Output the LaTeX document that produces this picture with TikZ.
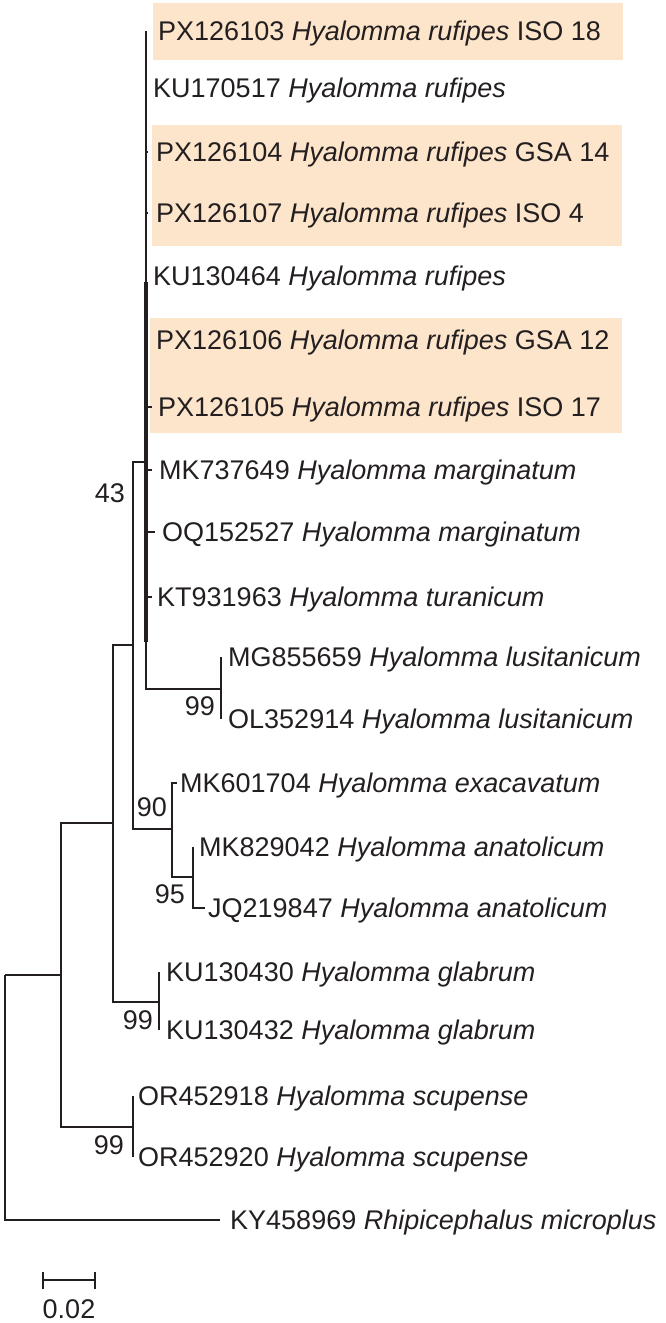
\documentclass[tikz,border=0pt]{standalone}
\usepackage{fontspec}
\setmainfont{Liberation Sans}
\definecolor{hilite}{RGB}{253,229,203}
\definecolor{ink}{RGB}{35,31,32}
\tikzset{
  taxon/.style={anchor=base west,inner sep=0pt,text=ink},
  boot/.style={inner sep=0pt,text=ink},
  branch/.style={line width=2pt,draw=ink},
  core/.style={line width=4.5pt,draw=ink},
}
\begin{document}
\begin{tikzpicture}[x=1pt,y=-1pt,font=\fontsize{27}{32}\selectfont]
      \useasboundingbox (0,0) rectangle (665,1323);
      \fill[hilite] (153,3) rectangle (623,60);
      \fill[hilite] (152,125) rectangle (622,246);
      \fill[hilite] (150,318) rectangle (622,433);
      \coordinate (R) at (5,975);
      \coordinate (C) at (61,975);
      \coordinate (B) at (113,823);
      \coordinate (A) at (133,645);
      \coordinate (P) at (146,462);
      \coordinate (Pa) at (146,282);
      \coordinate (Pb) at (146,642);
      \coordinate (L) at (221,689);
      \coordinate (E) at (172,829);
      \coordinate (N) at (193,877);
      \coordinate (G) at (159,1002);
      \coordinate (S) at (133,1127);
      \coordinate (t1) at (146,31);
      \coordinate (t2) at (146,88);
      \coordinate (t3) at (148,152);
      \coordinate (t4) at (148,213);
      \coordinate (t5) at (146,276);
      \coordinate (t6) at (148,340);
      \coordinate (t7) at (152,407);
      \coordinate (t8) at (152,470);
      \coordinate (t9) at (155,532);
      \coordinate (t10) at (152,597);
      \coordinate (t11) at (221,657);
      \coordinate (t12) at (221,719);
      \coordinate (t13) at (177,783);
      \coordinate (t14) at (193,847);
      \coordinate (t15) at (205,908);
      \coordinate (t16) at (159,972);
      \coordinate (t17) at (159,1030);
      \coordinate (t18) at (133,1096);
      \coordinate (t19) at (133,1157);
      \coordinate (t20) at (220,1220);
      \node[taxon] (l1) at (158,40) {PX126103 \textit{Hyalomma rufipes} ISO 18};
      \node[taxon] (l2) at (153,97) {KU170517 \textit{Hyalomma rufipes}};
      \node[taxon] (l3) at (156,161) {PX126104 \textit{Hyalomma rufipes} GSA 14};
      \node[taxon] (l4) at (156,222) {PX126107 \textit{Hyalomma rufipes} ISO 4};
      \node[taxon] (l5) at (153,285) {KU130464 \textit{Hyalomma rufipes}};
      \node[taxon] (l6) at (156,349) {PX126106 \textit{Hyalomma rufipes} GSA 12};
      \node[taxon] (l7) at (158,416) {PX126105 \textit{Hyalomma rufipes} ISO 17};
      \node[taxon] (l8) at (159,479) {MK737649 \textit{Hyalomma marginatum}};
      \node[taxon] (l9) at (162,541) {OQ152527 \textit{Hyalomma marginatum}};
      \node[taxon] (l10) at (157,606) {KT931963 \textit{Hyalomma turanicum}};
      \node[taxon] (l11) at (228,666) {MG855659 \textit{Hyalomma lusitanicum}};
      \node[taxon] (l12) at (228,728) {OL352914 \textit{Hyalomma lusitanicum}};
      \node[taxon] (l13) at (180,792) {MK601704 \textit{Hyalomma exacavatum}};
      \node[taxon] (l14) at (199,856) {MK829042 \textit{Hyalomma anatolicum}};
      \node[taxon] (l15) at (208,917) {JQ219847 \textit{Hyalomma anatolicum}};
      \node[taxon] (l16) at (166,981) {KU130430 \textit{Hyalomma glabrum}};
      \node[taxon] (l17) at (166,1039) {KU130432 \textit{Hyalomma glabrum}};
      \node[taxon] (l18) at (138,1105) {OR452918 \textit{Hyalomma scupense}};
      \node[taxon] (l19) at (138,1166) {OR452920 \textit{Hyalomma scupense}};
      \node[taxon] (l20) at (230,1229) {KY458969 \textit{Rhipicephalus microplus}};
      \node[boot] (b43) at (110,493) {43};
      \node[boot] (b99a) at (200,706) {99};
      \node[boot] (b90) at (152,807) {90};
      \node[boot] (b95) at (170,894) {95};
      \node[boot] (b99b) at (138,1020) {99};
      \node[boot] (b99c) at (109,1145) {99};
      \begin{scope}[branch]
        \draw (R) |- (C);
        \draw (R) |- (t20);
        \draw (C) |- (B);
        \draw (C) |- (S);
        \draw (B) |- (A);
        \draw (B) |- (G);
        \draw (A) |- (P);
        \draw (A) |- (E);
        \draw (P) |- (t1);
        \draw (P) |- (t2);
        \draw (P) |- (t3);
        \draw (P) |- (t4);
        \draw (P) |- (t5);
        \draw (P) |- (t6);
        \draw (P) |- (t7);
        \draw (P) |- (t8);
        \draw (P) |- (t9);
        \draw (P) |- (t10);
        \draw (P) |- (L);
        \draw (L) |- (t11);
        \draw (L) |- (t12);
        \draw (E) |- (t13);
        \draw (E) |- (N);
        \draw (N) |- (t14);
        \draw (N) |- (t15);
        \draw (G) |- (t16);
        \draw (G) |- (t17);
        \draw (S) |- (t18);
        \draw (S) |- (t19);
      \end{scope}
      \draw[core] (Pa) -- (Pb);
      \coordinate (sb1) at (43,1280);
      \coordinate (sb2) at (95,1280);
      \coordinate (sb1a) at (43,1272);
      \coordinate (sb1b) at (43,1289);
      \coordinate (sb2a) at (95,1272);
      \coordinate (sb2b) at (95,1289);
      \draw[branch] (sb1) -- (sb2);
      \draw[branch] (sb1a) -- (sb1b);
      \draw[branch] (sb2a) -- (sb2b);
      \node[boot] (scale) at (69,1309) {0.02};
    \end{tikzpicture}
\end{document}
